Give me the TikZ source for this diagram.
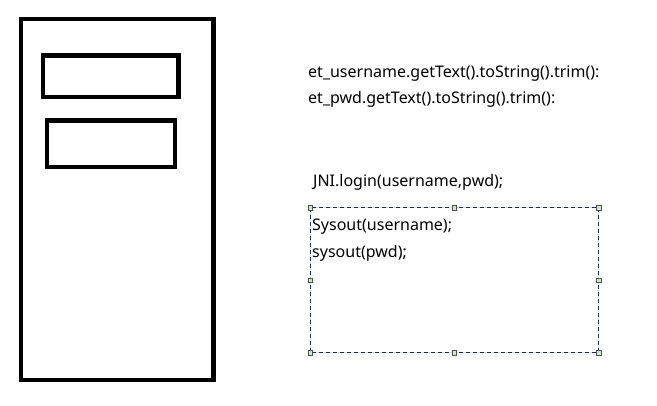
\documentclass[tikz,border=0pt]{standalone}
\usepackage{fontspec}
\setmainfont{Noto Sans}
\definecolor{selblue}{RGB}{20,40,130}
\definecolor{selgreen}{RGB}{200,235,200}
\definecolor{handlegray}{RGB}{80,80,80}
\begin{document}
\begin{tikzpicture}[x=1pt,y=-1pt,
  code/.style={anchor=base west,inner sep=0pt,font=\fontsize{16}{19}\selectfont},
  handle/.style={draw=handlegray,fill=selgreen,line width=0.8pt,minimum size=4.5pt,inner sep=0pt}]
  \useasboundingbox (0,0) rectangle (657,405);
  \draw[line width=4.5pt] (21.2,18.8) rectangle (213.5,380.2);
  \draw[line width=4.3pt] (43.2,55.5) rectangle (178.5,97);
  \draw[line width=4.3pt] (47.2,120.5) rectangle (175,167);
  \node[code] (getuser) at (308,77) {et\_username.getText().toString().trim():};
  \node[code] (getpwd) at (308,103) {et\_pwd.getText().toString().trim():};
  \node[code] (login) at (313,186) {JNI.login(username,pwd);};
  \node[minimum width=288pt,minimum height=144.6pt,inner sep=0pt,anchor=north west] (sel) at (310.3,207.7) {};
  \draw[selgreen,line width=1pt] (sel.north west) rectangle (sel.south east);
  \draw[selblue,line width=1pt,dash pattern=on 4pt off 3pt] (sel.north west) rectangle (sel.south east);
  \foreach \a in {north west,north,north east,east,south east,south,south west,west}
    \node[handle] at (sel.\a) {};
  \node[code] (outuser) at (312,230) {Sysout(username);};
  \node[code] (outpwd) at (312,257) {sysout(pwd);};
\end{tikzpicture}
\end{document}
